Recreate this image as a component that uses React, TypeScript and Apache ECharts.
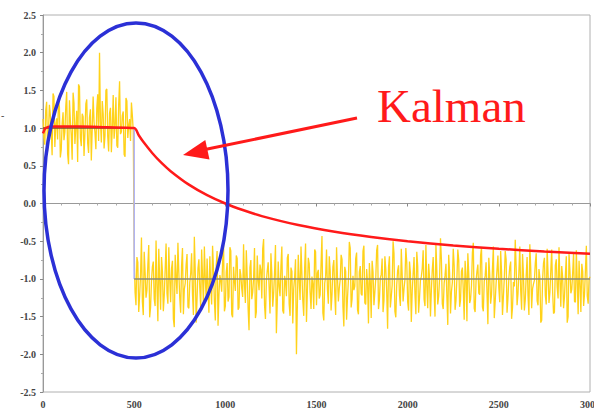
import React, { useEffect, useRef } from "react";
import * as echarts from "echarts";

const NOISE_STEP = 10;
const NOISE_HALF = 5;
const STEP_AT = 500;

const noiseBefore = [
  1.12, 0.78, 1.35, 0.92, 1.18, 0.64, 1.42, 1.05, 0.85, 1.28,
  0.71, 1.21, 0.95, 1.48, 0.52, 1.10, 0.58, 1.33, 1.02, 0.55,
  1.55, 0.76, 1.15, 0.93, 1.38, 0.67, 1.25, 0.99, 1.08, 0.72,
  1.45, 2.0, 0.81, 1.19, 0.90, 1.52, 0.69, 1.27, 1.01, 0.86,
  1.41, 0.74, 1.62, 0.95, 1.22, 0.62, 1.36, 1.04, 0.83, 1.17,
];
// samples on x = 5,15,25,...
const noiseBeforeMid = [
  0.88, 1.24, 0.69, 1.31, 0.97, 1.46, 0.75, 1.13, 1.39, 0.61,
  1.06, 0.84, 1.29, 0.66, 1.37, 0.91, 1.47, 0.79, 1.23, 1.58,
  0.87, 1.19, 0.63, 1.32, 0.80, 1.14, 0.57, 1.42, 0.94, 1.26,
  0.83, 1.09, 1.36, 0.73, 1.50, 0.89, 1.20, 0.68, 1.44, 1.03,
  0.77, 1.31, 0.92, 1.17, 0.65, 1.40, 0.87, 1.12, 1.34, 0.96,
];
// samples on x = 500,510,...,3000
const noiseAfter = [
  -0.62, -1.35, -0.78, -1.22, -0.45, -1.48, -0.91, -1.15, -0.55, -1.38,
  -0.84, -1.27, -0.49, -1.56, -1.02, -0.71, -1.43, -0.88, -1.19, -0.58,
  -1.31, -0.76, -1.64, -0.97, -0.52, -1.25, -0.83, -1.47, -1.06, -0.67,
  -1.39, -0.93, -1.21, -0.44, -1.58, -0.86, -1.12, -0.61, -1.34, -0.99,
  -0.73, -1.45, -1.08, -0.56, -1.29, -0.82, -1.62, -0.95, -1.17, -0.48,
  -1.36, -0.79, -1.24, -0.63, -1.51, -1.03, -0.69, -1.41, -0.87, -1.13,
  -0.54, -1.32, -0.96, -1.68, -0.75, -1.18, -0.59, -1.44, -1.01, -0.81,
  -1.26, -0.47, -1.53, -0.89, -1.11, -0.66, -1.37, -0.92, -1.72, -0.77,
  -1.23, -0.57, -1.46, -1.04, -0.72, -1.33, -0.85, -1.59, -0.98, -2.0,
  -0.68, -1.28, -0.94, -1.49, -0.53, -1.16, -0.80, -1.40, -1.07, -0.61,
  -1.35, -0.88, -1.21, -0.43, -1.55, -0.97, -1.14, -0.70, -1.42, -0.84,
  -1.19, -0.58, -1.30, -1.01, -0.74, -1.63, -0.90, -1.25, -0.51, -1.38,
  -0.96, -1.10, -0.65, -1.47, -0.83, -1.22, -0.56, -1.34, -1.05, -0.79,
  -1.52, -0.91, -1.18, -0.62, -1.40, -0.99, -0.73, -1.29, -0.87, -1.66,
  -0.70, -1.24, -0.50, -1.43, -1.08, -0.82, -1.36, -0.95, -1.13, -0.59,
  -1.31, -0.77, -1.57, -0.93, -1.20, -0.64, -1.45, -1.02, -0.86, -1.27,
  -0.55, -1.39, -0.98, -1.15, -0.71, -1.50, -0.89, -1.23, -0.46, -1.33,
  -1.06, -0.80, -1.61, -0.92, -1.17, -0.60, -1.41, -1.00, -0.75, -1.28,
  -0.85, -1.54, -0.97, -0.66, -1.32, -1.09, -0.52, -1.44, -0.90, -1.19,
  -0.69, -1.37, -1.03, -0.78, -1.60, -0.94, -1.21, -0.57, -1.30, -0.88,
  -1.12, -0.63, -1.48, -0.99, -0.74, -1.26, -0.84, -1.53, -1.04, -0.48,
  -1.35, -0.91, -1.16, -0.67, -1.42, -0.96, -1.22, -0.54, -1.39, -1.07,
  -0.79, -1.29, -0.87, -1.58, -1.01, -0.72, -1.34, -0.93, -1.18, -0.61,
  -1.46, -0.82, -1.11, -0.58, -1.37, -0.98, -1.24, -0.70, -1.50, -0.89,
  -1.14, -0.65, -1.31, -1.02, -0.76, -1.44, -0.90, -1.20, -0.56, -1.33,
  -0.97,
];
// samples on x = 505,515,...,2995
const noiseAfterMid = [
  -1.18, -0.71, -1.44, -0.95, -1.30, -0.64, -1.25, -0.82, -1.51, -1.03,
  -0.77, -1.36, -1.09, -0.60, -1.41, -0.90, -1.22, -0.53, -1.33, -1.00,
  -0.86, -1.53, -0.68, -1.20, -0.92, -1.45, -0.59, -1.14, -0.81, -1.37,
  -1.05, -0.66, -1.48, -0.89, -1.26, -0.74, -1.39, -0.97, -0.57, -1.28,
  -1.12, -0.70, -1.34, -0.87, -1.55, -0.63, -1.21, -1.02, -0.79, -1.43,
  -0.91, -1.30, -0.58, -1.47, -0.84, -1.16, -0.73, -1.38, -0.95, -1.24,
  -1.07, -0.62, -1.40, -0.85, -1.27, -0.99, -1.52, -0.69, -1.15, -0.88,
  -0.60, -1.35, -1.03, -0.78, -1.46, -0.93, -1.19, -0.55, -1.31, -1.10,
  -0.83, -1.42, -0.96, -1.23, -0.67, -1.49, -0.90, -1.13, -0.74, -1.36,
  -1.01, -0.57, -1.29, -0.86, -1.57, -0.72, -1.18, -0.97, -1.40, -0.64,
  -0.92, -1.26, -0.80, -1.45, -1.06, -0.61, -1.33, -0.89, -1.21, -0.75,
  -1.48, -0.98, -1.12, -0.68, -1.37, -0.84, -1.54, -1.02, -0.59, -1.27,
  -1.15, -0.73, -1.41, -0.91, -1.20, -0.63, -1.32, -0.87, -1.59, -1.04,
  -0.76, -1.35, -0.99, -0.55, -1.28, -0.94, -1.44, -0.70, -1.17, -0.85,
  -1.38, -1.08, -0.66, -1.51, -0.89, -1.22, -0.60, -1.30, -1.01, -0.78,
  -1.42, -0.92, -1.16, -0.71, -1.47, -0.83, -1.25, -0.97, -0.62, -1.36,
  -1.09, -0.80, -1.50, -0.88, -1.19, -0.54, -1.34, -1.00, -0.74, -1.40,
  -0.95, -1.23, -0.68, -1.46, -1.05, -0.82, -1.29, -0.61, -1.37, -0.90,
  -1.14, -0.76, -1.56, -0.93, -1.27, -0.65, -1.39, -1.03, -0.81, -1.21,
  -0.58, -1.43, -0.96, -1.18, -0.72, -1.33, -0.87, -1.52, -1.06, -0.69,
  -1.31, -0.91, -1.24, -0.63, -1.45, -0.99, -0.77, -1.38, -1.10, -0.84,
  -1.20, -0.57, -1.41, -0.94, -1.28, -0.71, -1.48, -0.86, -1.13, -1.02,
  -0.66, -1.35, -0.98, -1.55, -0.79, -1.22, -0.60, -1.32, -0.89, -1.17,
  -1.44, -0.74, -1.26, -1.01, -0.83, -1.39, -0.95, -1.58, -0.67, -1.19,
  -0.92, -1.30, -0.62, -1.47, -1.07, -0.80, -1.36, -0.88, -1.23, -1.00,
];

// True signal (step)
const truthLevel = [1.0, -1.0];

// Kalman estimate (red)
const kalmanX = [0, 15, 50, 200, 350, 500, 525, 550, 600, 650, 700, 800, 900, 1000, 1100, 1200, 1400, 1600, 1800, 2000, 2250, 2500, 2750, 3000];
const kalmanY = [0.93, 1.0, 1.02, 1.02, 1.01, 1.0, 0.905, 0.818, 0.667, 0.538, 0.429, 0.25, 0.111, 0.0, -0.09, -0.167, -0.286, -0.375, -0.444, -0.5, -0.556, -0.6, -0.636, -0.667];

const xTicks = [0, 500, 1000, 1500, 2000, 2500, 3000];
const yTicks = [-2.5, -2.0, -1.5, -1.0, -0.5, 0.0, 0.5, 1.0, 1.5, 2.0, 2.5];

function interleave(a: number[], b: number[], x0: number) {
  const out: number[][] = [];
  for (let i = 0; i < a.length; i++) {
    out.push([x0 + i * NOISE_STEP, a[i]]);
    if (i < b.length) out.push([x0 + i * NOISE_STEP + NOISE_HALF, b[i]]);
  }
  return out;
}

export default function App() {
  const ref = useRef<HTMLDivElement>(null);
  useEffect(() => {
    if (!ref.current) return;
    const chart = echarts.init(ref.current, null, { renderer: "svg" });
    const noiseData = [
      ...interleave(noiseBefore, noiseBeforeMid, 0),
      ...interleave(noiseAfter, noiseAfterMid, STEP_AT),
    ];
    const labelStyle = {
      fontFamily: "'Liberation Serif', serif",
      fontSize: 10,
      fontWeight: "bold" as const,
      color: "#444",
    };
    chart.setOption({
      animation: false,
      backgroundColor: "#fff",
      grid: {
        left: 43,
        right: 4,
        top: 15,
        bottom: 21,
        show: true,
        borderColor: "#b0b0b0",
        borderWidth: 1,
        containLabel: false,
        outerBoundsMode: "none",
      },
      xAxis: {
        type: "value",
        min: xTicks[0],
        max: xTicks[xTicks.length - 1],
        interval: 500,
        axisLine: { lineStyle: { color: "#999", width: 1 } },
        axisTick: { show: true, length: 3, lineStyle: { color: "#888" } },
        minorTick: { show: true, splitNumber: 5, length: 2, lineStyle: { color: "#aaa" } },
        splitLine: { show: false },
        axisLabel: { ...labelStyle, margin: 7, formatter: (v: number) => String(v) },
      },
      yAxis: {
        type: "value",
        min: yTicks[0],
        max: yTicks[yTicks.length - 1],
        interval: 0.5,
        axisLine: { show: true, lineStyle: { color: "#999", width: 1 } },
        axisTick: { show: true, length: 3, lineStyle: { color: "#888" } },
        minorTick: { show: true, splitNumber: 2, length: 2, lineStyle: { color: "#aaa" } },
        splitLine: { show: false },
        axisLabel: {
          ...labelStyle,
          margin: 7,
          formatter: (v: number) => v.toFixed(1),
        },
      },
      series: [
        {
          type: "line",
          data: noiseData,
          showSymbol: false,
          symbol: "none",
          lineStyle: { color: "#ffd21a", width: 1.3 },
          z: 1,
        },
        {
          type: "line",
          data: [
            [0, truthLevel[0]],
            [STEP_AT, truthLevel[0]],
          ],
          symbol: "none",
          lineStyle: { color: "#7a4a30", width: 1.5 },
          z: 2,
        },
        {
          type: "line",
          data: [
            [STEP_AT, truthLevel[0]],
            [STEP_AT, truthLevel[1]],
          ],
          symbol: "none",
          lineStyle: { color: "#aab0ff", width: 1.5 },
          z: 2,
        },
        {
          type: "line",
          data: [
            [STEP_AT, truthLevel[1]],
            [xTicks[xTicks.length - 1], truthLevel[1]],
          ],
          symbol: "none",
          lineStyle: { color: "#8a8a7a", width: 1.5 },
          z: 2,
        },
        {
          type: "line",
          data: kalmanX.map((x, i) => [x, kalmanY[i]]),
          symbol: "none",
          smooth: 0.3,
          lineStyle: { color: "#ff1a1a", width: 2.5 },
          z: 3,
        },
      ],
      graphic: [
        {
          type: "ellipse",
          shape: { cx: 136, cy: 190.5, rx: 92, ry: 167.5 },
          style: { fill: "none", stroke: "#2b30d6", lineWidth: 3.5 },
          z: 10,
        },
        {
          type: "line",
          shape: { x1: 357, y1: 118, x2: 205, y2: 149.5 },
          style: { stroke: "#ff1a1a", lineWidth: 3 },
          z: 10,
        },
        {
          type: "polygon",
          shape: {
            points: [
              [183, 155],
              [205.3, 140.0],
              [209.5, 159.6],
            ],
          },
          style: { fill: "#ff1a1a" },
          z: 10,
        },
        {
          type: "text",
          x: 377,
          y: 82,
          style: {
            text: "Kalman",
            fontFamily: "'Liberation Serif', serif",
            fontSize: 47,
            fill: "#ff1a1a",
          },
          z: 10,
        },
        {
          type: "text",
          x: 1,
          y: 110,
          style: { text: "-", fontFamily: "'Liberation Serif', serif", fontSize: 10, fill: "#444" },
        },
      ],
    });
    return () => chart.dispose();
  }, []);
  return <div ref={ref} style={{ width: 594, height: 413, position: "fixed", left: 0, top: 0 }} />;
}
